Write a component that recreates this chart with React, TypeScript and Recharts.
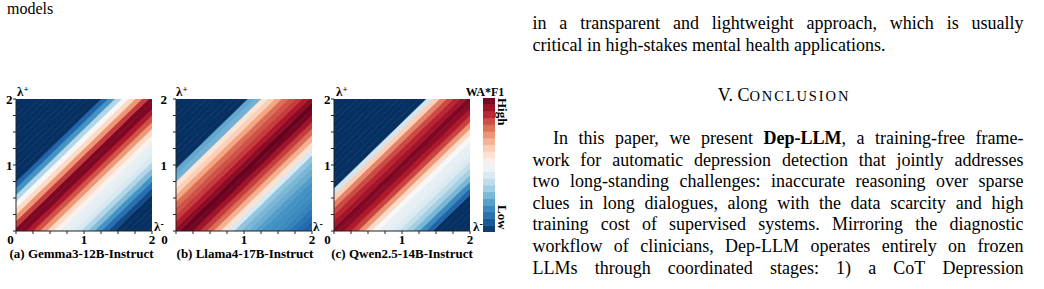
import React from 'react';
import { ComposedChart, Area, XAxis, YAxis, BarChart, Bar } from 'recharts';

// Diagonal offset d = λ+ − λ- at which each model's WA*F1 score was read (normalised 0 = Low, 1 = High)
const diagonalOffsets = [-2.0, -1.9, -1.8, -1.7, -1.6, -1.5, -1.4, -1.3, -1.2, -1.1, -1.0, -0.9, -0.8, -0.7, -0.6, -0.5, -0.4, -0.3, -0.2, -0.1, 0.0, 0.1, 0.2, 0.3, 0.4, 0.5, 0.6, 0.7, 0.8, 0.9, 1.0, 1.1, 1.2, 1.3, 1.4, 1.5, 1.6, 1.7, 1.8, 1.9, 2.0];

const gemmaScores = [0, 0, 0, 0, 0, 0, 0.05, 0.12, 0.2, 0.28, 0.35, 0.42, 0.45, 0.46, 0.52, 0.6, 0.72, 0.82, 0.9, 0.97, 0.97, 0.85, 0.72, 0.6, 0.5, 0.35, 0.2, 0.1, 0, 0, 0, 0, 0, 0, 0, 0, 0, 0, 0, 0, 0];
const llamaScores = [0.07, 0.09, 0.11, 0.13, 0.16, 0.18, 0.19, 0.2, 0.22, 0.25, 0.27, 0.3, 0.42, 0.58, 0.68, 0.78, 0.85, 0.92, 0.98, 1.0, 0.95, 0.9, 0.85, 0.82, 0.78, 0.7, 0.62, 0.57, 0.26, 0.24, 0, 0, 0, 0, 0, 0, 0, 0, 0, 0, 0];
const qwenScores = [0, 0, 0, 0, 0, 0, 0.1, 0.18, 0.27, 0.33, 0.38, 0.43, 0.45, 0.46, 0.5, 0.6, 0.72, 0.84, 0.9, 0.95, 0.97, 0.92, 0.88, 0.83, 0.75, 0.62, 0.4, 0, 0, 0, 0, 0, 0, 0, 0, 0, 0, 0, 0, 0, 0];

const lambdaTicks = [0, 0.25, 0.5, 0.75, 1, 1.25, 1.5, 1.75, 2];
const lambdaDomain = [0, 2];
const colorbarLevels = [0, 0.05, 0.1, 0.15, 0.2, 0.25, 0.3, 0.35, 0.4, 0.45, 0.5, 0.55, 0.6, 0.65, 0.7, 0.75, 0.8, 0.85, 0.9, 0.95];
const colorbarTicks = [0, 0.125, 0.25, 0.375, 0.5, 0.625, 0.75, 0.875, 1];
const panelCaptions = ['(a) Gemma3-12B-Instruct', '(b) Llama4-17B-Instruct', '(c) Qwen2.5-14B-Instruct'];

const SERIF = '"Liberation Serif", "Times New Roman", Times, serif';

const RDBU_R = [
  [5, 48, 97], [33, 102, 172], [67, 147, 195], [146, 197, 222], [209, 229, 240], [247, 247, 247],
  [253, 219, 199], [244, 165, 130], [214, 96, 77], [178, 24, 43], [103, 0, 31],
];
function rdbu(v: number): string {
  const t = Math.max(0, Math.min(1, v)) * 10;
  const i = Math.min(9, Math.floor(t));
  const f = t - i;
  const a = RDBU_R[i];
  const b = RDBU_R[i + 1];
  const c = a.map((x, j) => Math.round(x + (b[j] - x) * f));
  return `rgb(${c[0]},${c[1]},${c[2]})`;
}

const bandHalf = (diagonalOffsets[1] - diagonalOffsets[0]) / 2;

function buildBands() {
  return lambdaDomain.map((x) => {
    const row: any = { x };
    diagonalOffsets.forEach((d, k) => {
      row['b' + k] = [x + d - bandHalf, x + d + bandHalf];
    });
    return row;
  });
}

const panels = [
  { scores: gemmaScores, left: 0, yDx: 1.5, zeroDx: -5.5 },
  { scores: llamaScores, left: 160, yDx: -4, zeroDx: -11.5 },
  { scores: qwenScores, left: 318, yDx: 1.5, zeroDx: -6.5 },
];

const tickFont = { fontFamily: SERIF, fontWeight: 700, fontSize: 13, fill: '#000' } as const;

function Heatmap({ scores, left, yDx, zeroDx }: { scores: number[]; left: number; yDx: number; zeroDx: number }) {
  const data = buildBands();
  const xTick = (p: any) => {
    const v = p.payload.value;
    if (v % 1 !== 0) return <g />;
    return (
      <text x={p.x + (v === 0 ? zeroDx : 0)} y={p.y} dy="0.69em" textAnchor="middle" style={tickFont}>
        {v}
      </text>
    );
  };
  const yTick = (p: any) => {
    const v = p.payload.value;
    if (v % 1 !== 0 || v === 0) return <g />;
    return (
      <text x={p.x + yDx} y={p.y} dy="0.355em" textAnchor="end" style={tickFont}>
        {v}
      </text>
    );
  };
  return (
    <div style={{ position: 'absolute', left, top: 85 }}>
      <ComposedChart width={170} height={180} data={data} margin={{ top: 14, right: 18, bottom: 14, left: 0 }}>
        {diagonalOffsets.map((d, k) => {
          const c = rdbu(scores[k]);
          return (
            <Area
              key={k}
              dataKey={'b' + k}
              type="linear"
              fill={c}
              fillOpacity={1}
              stroke={c}
              strokeWidth={0.6}
              dot={false}
              activeDot={false}
              isAnimationActive={false}
            />
          );
        })}
        <XAxis
          type="number"
          dataKey="x"
          domain={lambdaDomain}
          ticks={lambdaTicks}
          interval={0}
          allowDataOverflow
          height={20}
          tickSize={3}
          tickMargin={1}
          axisLine={{ stroke: '#222' }}
          tickLine={{ stroke: '#222' }}
          tick={xTick}
        />
        <YAxis
          type="number"
          domain={lambdaDomain}
          ticks={lambdaTicks}
          interval={0}
          allowDataOverflow
          width={16}
          tickSize={3}
          axisLine={{ stroke: '#222' }}
          tickLine={{ stroke: '#222' }}
          tick={yTick}
        />
      </ComposedChart>
    </div>
  );
}

function Colorbar() {
  const row: any = { name: 'WA*F1' };
  colorbarLevels.forEach((lv, i) => {
    const next = i + 1 < colorbarLevels.length ? colorbarLevels[i + 1] : 1;
    row['l' + i] = next - lv;
  });
  return (
    <div style={{ position: 'absolute', left: 483, top: 98 }}>
      <BarChart width={12} height={134} data={[row]} margin={{ top: 0, right: 0, bottom: 0, left: 0 }} barCategoryGap={0}>
        {colorbarLevels.map((lv, i) => {
          const c = rdbu(lv + (colorbarLevels[1] - colorbarLevels[0]) / 2);
          return <Bar key={i} dataKey={'l' + i} stackId="cb" fill={c} stroke={c} strokeWidth={0.5} isAnimationActive={false} />;
        })}
        <XAxis dataKey="name" hide />
        <YAxis
          type="number"
          domain={[0, 1]}
          ticks={colorbarTicks}
          interval={0}
          orientation="right"
          mirror
          width={0}
          tickSize={3}
          axisLine={{ stroke: '#222' }}
          tickLine={{ stroke: '#333' }}
          tick={() => <g />}
        />
      </BarChart>
    </div>
  );
}

const justifiedLines = [
  { text: 'in a transparent and lightweight approach, which is usually', baseline: 29, indent: 0 },
  { text: 'In this paper, we present Dep-LLM, a training-free frame-', baseline: 144, indent: 20.5 },
  { text: 'work for automatic depression detection that jointly addresses', baseline: 165.6, indent: 0 },
  { text: 'two long-standing challenges: inaccurate reasoning over sparse', baseline: 187.2, indent: 0 },
  { text: 'clues in long dialogues, along with the data scarcity and high', baseline: 208.8, indent: 0 },
  { text: 'training cost of supervised systems. Mirroring the diagnostic', baseline: 230.4, indent: 0 },
  { text: 'workflow of clinicians, Dep-LLM operates entirely on frozen', baseline: 252, indent: 0 },
  { text: 'LLMs through coordinated stages: 1) a CoT Depression', baseline: 273.6, indent: 0 },
];

const COL_LEFT = 532.5;
const COL_WIDTH = 491;
const BODY = 18;
const ASC = 15.07;

function JustLine({ text, baseline, indent, first }: any) {
  const words = text.split(' ');
  return (
    <div
      style={{
        position: 'absolute',
        left: COL_LEFT + indent,
        top: baseline - ASC,
        width: COL_WIDTH - indent,
        display: 'flex',
        justifyContent: 'space-between',
        fontFamily: SERIF,
        fontSize: BODY,
        lineHeight: BODY + 'px',
        color: '#000',
        whiteSpace: 'pre',
      }}
    >
      {words.map((w: string, i: number) =>
        first && w === 'Dep-LLM,' ? (
          <span key={i}>
            <b>Dep-LLM</b>,
          </span>
        ) : (
          <span key={i}>{w}</span>
        )
      )}
    </div>
  );
}

export default function App() {
  return (
    <div style={{ position: 'absolute', left: 0, top: 0, width: 1044, height: 289, background: '#fff', overflow: 'hidden' }}>
      <div style={{ position: 'absolute', left: 7, top: 14.5 - 13.4, fontFamily: SERIF, fontSize: 16, lineHeight: '16px', color: '#000' }}>
        models
      </div>

      {justifiedLines.map((l, i) => (
        <JustLine key={i} text={l.text} baseline={l.baseline} indent={l.indent} first={i === 1} />
      ))}
      <div style={{ position: 'absolute', left: COL_LEFT, top: 50.6 - ASC, fontFamily: SERIF, fontSize: BODY, lineHeight: BODY + 'px', whiteSpace: 'pre', color: '#000' }}>
        critical in high-stakes mental health applications.
      </div>
      <div style={{ position: 'absolute', left: 584, width: 400, textAlign: 'center', top: 101.5 - ASC, fontFamily: SERIF, fontSize: BODY, lineHeight: BODY + 'px', whiteSpace: 'pre', color: '#000' }}>
        V. C<span style={{ fontSize: 14.5, letterSpacing: 1.9 }}>ONCLUSION</span>
      </div>

      {panels.map((p, i) => (
        <Heatmap key={i} scores={p.scores} left={p.left} yDx={p.yDx} zeroDx={p.zeroDx} />
      ))}
      <Colorbar />

      <svg width={1044} height={289} style={{ position: 'absolute', left: 0, top: 0, pointerEvents: 'none' }}>
        <g style={{ fontFamily: SERIF, fontWeight: 700, fontSize: 13 }} fill="#000">
          {[17, 176, 336].map((x, i) => (
            <text key={'lp' + i} x={x} y={96}>
              λ<tspan fontSize={9} dy={-4.5}>+</tspan>
            </text>
          ))}
          {[154, 313, 473].map((x, i) => (
            <text key={'lm' + i} x={x} y={231}>
              λ<tspan fontSize={10} dy={-4.5}>-</tspan>
            </text>
          ))}
          {[81.5, 245, 402].map((x, i) => (
            <text key={'cap' + i} x={x} y={257.5} textAnchor="middle">
              {panelCaptions[i]}
            </text>
          ))}
          <text x={485} y={96} textAnchor="middle" fontSize={12}>
            WA*F1
          </text>
          <text x={497.5} y={98} transform="rotate(90 497.5 98)">
            High
          </text>
          <text x={497.5} y={205} transform="rotate(90 497.5 205)">
            Low
          </text>
        </g>
      </svg>
    </div>
  );
}
